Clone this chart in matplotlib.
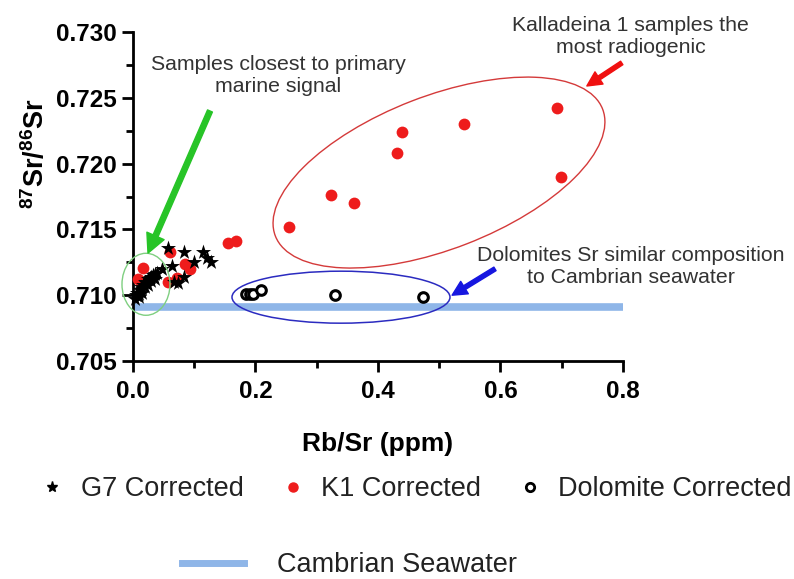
import matplotlib
matplotlib.use("Agg")
import matplotlib.pyplot as plt
from matplotlib.patches import Ellipse
from matplotlib.lines import Line2D
from matplotlib.transforms import ScaledTranslation
from matplotlib.ticker import MultipleLocator, FormatStrFormatter

plt.rcParams["font.family"] = ["Liberation Sans", "DejaVu Sans"]
plt.rcParams["mathtext.fontset"] = "custom"
plt.rcParams["mathtext.rm"] = "Liberation Sans"
plt.rcParams["mathtext.bf"] = "Liberation Sans:bold"

# --- data -------------------------------------------------------------
g7_rbsr = [0.003, 0.005, 0.007, 0.009, 0.011, 0.013, 0.015, 0.017, 0.019,
           0.021, 0.024, 0.027, 0.030, 0.033, 0.036, 0.040, 0.047, 0.057,
           0.064, 0.067, 0.073, 0.083, 0.083, 0.100, 0.114, 0.121, 0.127,
           0.010, 0.015, 0.020, 0.025, 0.030, 0.036]
g7_sr = [0.7097, 0.7100, 0.7102, 0.7101, 0.7104, 0.7106, 0.7105, 0.7108, 0.7110,
         0.7109, 0.7112, 0.7113, 0.7111, 0.7115, 0.7116, 0.7117, 0.7120, 0.7136,
         0.7122, 0.7110, 0.7109, 0.7114, 0.7133, 0.7125, 0.7133, 0.7128, 0.7125,
         0.7099, 0.7102, 0.7106, 0.7108, 0.7114, 0.7112]

k1_rbsr = [0.008, 0.016, 0.057, 0.060, 0.072, 0.085, 0.093, 0.155, 0.168,
           0.255, 0.323, 0.361, 0.431, 0.439, 0.540, 0.692, 0.699]
k1_sr = [0.7112, 0.7121, 0.7110, 0.7133, 0.7113, 0.7124, 0.7120, 0.7140, 0.7141,
         0.7152, 0.7176, 0.7170, 0.7208, 0.7224, 0.7230, 0.7242, 0.7190]

dol_rbsr = [0.184, 0.191, 0.196, 0.209, 0.330, 0.473]
dol_sr = [0.7101, 0.7101, 0.7101, 0.7104, 0.7100, 0.7099]

seawater_sr = 0.7091
seawater_range = [0.0, 0.8]

series_labels = ["G7 Corrected", "K1 Corrected", "Dolomite Corrected"]
seawater_label = "Cambrian Seawater"

SEA_BLUE = "#8fb6e8"
RED = "#ee1c1c"
TXT = "#333333"

fig = plt.figure(figsize=(7.94, 5.79), dpi=100)
ax = fig.add_axes([0.1675, 0.3765, 0.6171, 0.5682])

ax.plot(seawater_range, [seawater_sr, seawater_sr], color=SEA_BLUE, lw=5.5,
        solid_capstyle="butt", zorder=1)
ax.scatter(k1_rbsr, k1_sr, marker="o", s=72, color=RED, lw=0,
           zorder=3, clip_on=False)
ax.scatter(g7_rbsr, g7_sr, marker="*", s=130, color="black", lw=0,
           zorder=4, clip_on=False)
ax.scatter(dol_rbsr, dol_sr, marker="o", s=48, facecolor="white",
           edgecolor="black", lw=2.2, zorder=4, clip_on=False)

ax.set_xlim(0, 0.8)
ax.set_ylim(0.705, 0.730)
ax.xaxis.set_major_locator(MultipleLocator(0.2))
ax.xaxis.set_minor_locator(MultipleLocator(0.1))
ax.yaxis.set_major_locator(MultipleLocator(0.005))
ax.yaxis.set_minor_locator(MultipleLocator(0.0025))
ax.xaxis.set_major_formatter(FormatStrFormatter("%.1f"))
ax.yaxis.set_major_formatter(FormatStrFormatter("%.3f"))

for side in ("top", "right"):
    ax.spines[side].set_visible(False)
for side in ("left", "bottom"):
    ax.spines[side].set_linewidth(2)
ax.tick_params(which="major", length=8, width=2, labelsize=17.5)
ax.tick_params(which="minor", length=5, width=2)
ax.tick_params(axis="x", which="major", pad=6)
ax.tick_params(axis="y", which="major", pad=4)
for lab in ax.get_xticklabels() + ax.get_yticklabels():
    lab.set_fontweight("bold")

ax.set_xlabel("Rb/Sr (ppm)", fontsize=19, fontweight="bold")
ax.set_ylabel(r"$\mathbf{^{87}Sr/^{86}Sr}$", fontsize=19.5)
ax.xaxis.set_label_coords(0.5, -0.215)
ax.yaxis.set_label_coords(-0.17, 0.63)


def ring(cx, cy, w_px, h_px, angle, color, lw=1.0):
    """Outline ellipse centred at a data point, sized in pixels."""
    tr = fig.dpi_scale_trans + ScaledTranslation(cx, cy, ax.transData)
    e = Ellipse((0, 0), w_px / fig.dpi, h_px / fig.dpi, angle=angle,
                transform=tr, fill=False, edgecolor=color, lw=lw,
                zorder=5, clip_on=False)
    ax.add_patch(e)


ring(0.0212, 0.71083, 48, 62, 0, "#7fcf80", 1.0)
ring(0.3396, 0.70985, 218, 52, 0, "#2b2bc0", 1.1)
ring(0.4996, 0.71932, 351, 153, 21.2, "#d43a3a", 1.0)


def arrow(tail, head, color, scale, tw, hw, hl):
    ax.annotate("", xy=head, xytext=tail, annotation_clip=False,
                arrowprops=dict(arrowstyle=f"simple,head_width={hw},head_length={hl},tail_width={tw}",
                                color=color, mutation_scale=scale,
                                shrinkA=0, shrinkB=0), zorder=6)


arrow((0.1257, 0.7240), (0.0245, 0.7132), "#27c427", 10, 0.38, 1.35, 1.35)
arrow((0.798, 0.72765), (0.741, 0.7259), "#f01010", 10, 0.3, 1.05, 1.05)
arrow((0.591, 0.7120), (0.521, 0.7100), "#1616e0", 10, 0.3, 1.05, 1.05)

ax.text(0.237, 0.72667, "Samples closest to primary\nmarine signal",
        ha="center", va="center", fontsize=15.3, color=TXT,
        linespacing=1.2, clip_on=False)
ax.text(0.813, 0.72965, "Kalladeina 1 samples the\nmost radiogenic",
        ha="center", va="center", fontsize=15.3, color=TXT,
        linespacing=1.2, clip_on=False)
ax.text(0.813, 0.7122, "Dolomites Sr similar composition\nto Cambrian seawater",
        ha="center", va="center", fontsize=15.3, color=TXT,
        linespacing=1.2, clip_on=False)

handles = [
    Line2D([], [], ls="", marker="*", color="black", markersize=8),
    Line2D([], [], ls="", marker="o", color=RED, markersize=6.5),
    Line2D([], [], ls="", marker="o", markerfacecolor="white",
           markeredgecolor="black", markeredgewidth=2, markersize=6),
]
fig.legend(handles, series_labels, loc="center", bbox_to_anchor=(0.523, 0.155),
           ncol=3, frameon=False, fontsize=19.5, handlelength=1.0,
           handletextpad=0.55, columnspacing=1.3, labelcolor="#222222")
fig.legend([Line2D([], [], color=SEA_BLUE, lw=5)], [seawater_label],
           loc="center", bbox_to_anchor=(0.44, 0.024), frameon=False,
           fontsize=19.5, handlelength=2.3, handletextpad=1.2,
           labelcolor="#222222")

fig.savefig("out.png", dpi=100)
